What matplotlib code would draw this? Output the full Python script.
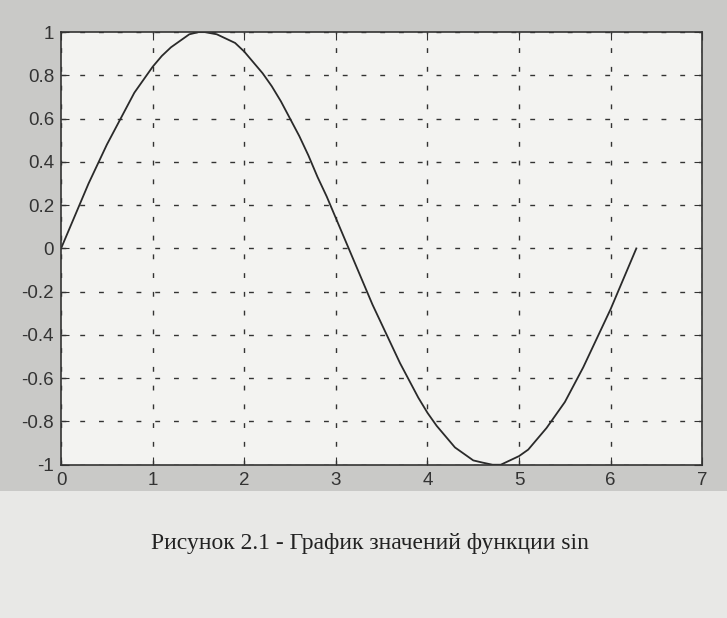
import matplotlib.pyplot as plt
from matplotlib.patches import Rectangle

# values
x_vals = [0.0, 0.1, 0.2, 0.3, 0.4, 0.5, 0.6, 0.7, 0.8, 0.9, 1.0, 1.1, 1.2, 1.3,
          1.4, 1.5, 1.57, 1.7, 1.8, 1.9, 2.0, 2.1, 2.2, 2.3, 2.4, 2.5, 2.6,
          2.7, 2.8, 2.9, 3.0, 3.14, 3.3, 3.4, 3.5, 3.6, 3.7, 3.8, 3.9, 4.0,
          4.1, 4.2, 4.3, 4.4, 4.5, 4.6, 4.71, 4.8, 4.9, 5.0, 5.1, 5.2, 5.3,
          5.4, 5.5, 5.6, 5.7, 5.8, 5.9, 6.0, 6.1, 6.2, 6.28]
y_vals = [0.0, 0.10, 0.20, 0.30, 0.39, 0.48, 0.56, 0.64, 0.72, 0.78, 0.84,
          0.89, 0.93, 0.96, 0.99, 1.0, 1.0, 0.99, 0.97, 0.95, 0.91, 0.86,
          0.81, 0.75, 0.68, 0.60, 0.52, 0.43, 0.33, 0.24, 0.14, 0.0, -0.16,
          -0.26, -0.35, -0.44, -0.53, -0.61, -0.69, -0.76, -0.82, -0.87,
          -0.92, -0.95, -0.98, -0.99, -1.0, -1.0, -0.98, -0.96, -0.93, -0.88,
          -0.83, -0.77, -0.71, -0.63, -0.55, -0.46, -0.37, -0.28, -0.18,
          -0.08, 0.0]
x_ticks = [0, 1, 2, 3, 4, 5, 6, 7]
y_ticks = [-1, -0.8, -0.6, -0.4, -0.2, 0, 0.2, 0.4, 0.6, 0.8, 1]
y_labels = ['-1', '-0.8', '-0.6', '-0.4', '-0.2', '0', '0.2', '0.4', '0.6', '0.8', '1']
caption = 'Рисунок 2.1 - График значений функции sin'

fig = plt.figure(figsize=(7.27, 6.18), dpi=100)
fig.patch.set_facecolor('#c9c9c7')
fig.patches.append(Rectangle((0, 0), 1, 0.205, transform=fig.transFigure,
                             facecolor='#e8e8e6', edgecolor='none', zorder=0))

ax = fig.add_axes([0.084, 0.248, 0.882, 0.700])
ax.set_facecolor('#f3f3f1')
ax.plot(x_vals, y_vals, color='#2a2a2a', lw=1.3)
ax.set_xlim(0, 7)
ax.set_ylim(-1, 1)
ax.set_xticks(x_ticks)
ax.set_yticks(y_ticks)
ax.set_yticklabels(y_labels)
ax.grid(True, color='#333333', linestyle=(0, (3.5, 10)), lw=1.0)
ax.tick_params(direction='in', top=True, right=True, length=6, pad=5,
               labelsize=13.5, colors='#333333')
for lab in ax.get_xticklabels() + ax.get_yticklabels():
    lab.set_family('Liberation Sans')
for s in ax.spines.values():
    s.set_color('#333333')
    s.set_linewidth(1.2)

fig.text(0.509, 0.12, caption, ha='center', va='center',
         fontsize=17, family='Liberation Serif', color='#222222')

fig.savefig('out.png', dpi=100, facecolor=fig.get_facecolor())
